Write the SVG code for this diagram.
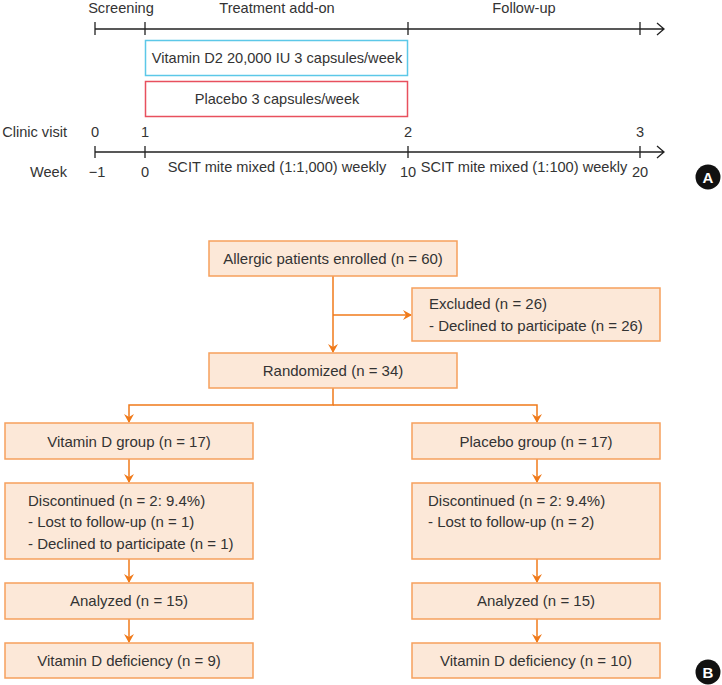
<svg xmlns="http://www.w3.org/2000/svg" width="722" height="685" viewBox="0 0 722 685">
<style>
text{font-family:"Liberation Sans",Arial,sans-serif;font-size:15px;fill:#333}
#timeline text{font-size:14.6px}
.tl{stroke:#222;stroke-width:1.3;fill:none}
.box{fill:#fce8d8;stroke:#f6a05c;stroke-width:1.5}
.con{stroke:#f07a1a;stroke-width:1.5;fill:none}
.c{text-anchor:middle}
.e{text-anchor:end}
.badge{fill:#111}
#timeline .bt,.bt{fill:#fff;font-weight:bold;font-size:15px;text-anchor:middle}
</style>
<defs>
<marker id="ah" markerWidth="10" markerHeight="10" refX="8" refY="5" orient="auto" markerUnits="userSpaceOnUse">
<path d="M0,0 L9,5 L0,10 L3,5 Z" fill="#f07a1a"/>
</marker>
</defs>
<g id="timeline">
<text x="121" y="13" class="c">Screening</text>
<text x="277" y="13" class="c">Treatment add-on</text>
<text x="524" y="13" class="c">Follow-up</text>
<path class="tl" d="M95,29 H664 M657,23 L664,29 L657,35 M95,22 V35 M145,22 V35 M408,22 V35 M640,22 V35"/>
<g id="vitd2"><rect x="145.5" y="40.5" width="262" height="35" fill="#fff" stroke="#5cc8e8" stroke-width="1.5"/>
<text x="277" y="63" class="c">Vitamin D2 20,000 IU 3 capsules/week</text></g>
<g id="placebo"><rect x="145.5" y="81.5" width="262" height="35" fill="#fff" stroke="#e8505e" stroke-width="1.5"/>
<text x="277" y="104" class="c">Placebo 3 capsules/week</text></g>
<text x="67" y="137" class="e">Clinic visit</text>
<text x="95" y="137" class="c">0</text>
<text x="145" y="137" class="c">1</text>
<text x="408" y="137" class="c">2</text>
<text x="640" y="137" class="c">3</text>
<path class="tl" d="M95,152 H664 M657,146 L664,152 L657,158 M95,146 V158 M145,146 V158 M408,146 V158 M640,146 V158"/>
<text x="67" y="177" class="e">Week</text>
<text x="97" y="177" class="c">−1</text>
<text x="145" y="177" class="c">0</text>
<text x="408" y="177" class="c">10</text>
<text x="640" y="177" class="c">20</text>
<text x="277" y="172" class="c">SCIT mite mixed (1:1,000) weekly</text>
<text x="524" y="172" class="c">SCIT mite mixed (1:100) weekly</text>
<circle class="badge" cx="708" cy="177" r="12.5"/>
<text x="708" y="182.5" class="bt">A</text>
</g>
<g id="connectors">
<path class="con" d="M333,276 V352" marker-end="url(#ah)"/>
<path class="con" d="M333,315 H411" marker-end="url(#ah)"/>
<path class="con" d="M333,388 V405 H129 V422" marker-end="url(#ah)"/>
<path class="con" d="M333,405 H537 V422" marker-end="url(#ah)"/>
<path class="con" d="M129,459 V482" marker-end="url(#ah)"/>
<path class="con" d="M537,459 V482" marker-end="url(#ah)"/>
<path class="con" d="M129,559 V582" marker-end="url(#ah)"/>
<path class="con" d="M537,559 V582" marker-end="url(#ah)"/>
<path class="con" d="M129,619 V642" marker-end="url(#ah)"/>
<path class="con" d="M537,619 V642" marker-end="url(#ah)"/>
</g>
<g id="enrolled"><rect class="box" x="209" y="241" width="248" height="35"/>
<text x="333" y="263.5" class="c">Allergic patients enrolled (n = 60)</text></g>
<g id="excluded"><rect class="box" x="412" y="288" width="248" height="53"/>
<text x="429" y="308.5">Excluded (n = 26)</text>
<text x="429" y="330.5">- Declined to participate (n = 26)</text></g>
<g id="randomized"><rect class="box" x="209" y="353" width="248" height="35"/>
<text x="333" y="375.5" class="c">Randomized (n = 34)</text></g>
<g id="vitd-group"><rect class="box" x="5" y="423" width="248" height="36"/>
<text x="129" y="446.5" class="c">Vitamin D group (n = 17)</text></g>
<g id="plac-group"><rect class="box" x="412" y="423" width="248" height="36"/>
<text x="536" y="446.5" class="c">Placebo group (n = 17)</text></g>
<g id="vitd-disc"><rect class="box" x="5" y="483" width="248" height="76"/>
<text x="28" y="505.5">Discontinued (n = 2: 9.4%)</text>
<text x="28" y="527">- Lost to follow-up (n = 1)</text>
<text x="28" y="548.5">- Declined to participate (n = 1)</text></g>
<g id="plac-disc"><rect class="box" x="412" y="483" width="248" height="76"/>
<text x="428" y="505.5">Discontinued (n = 2: 9.4%)</text>
<text x="428" y="527">- Lost to follow-up (n = 2)</text></g>
<g id="vitd-anal"><rect class="box" x="5" y="583" width="248" height="36"/>
<text x="129" y="605.5" class="c">Analyzed (n = 15)</text></g>
<g id="plac-anal"><rect class="box" x="412" y="583" width="248" height="36"/>
<text x="536" y="605.5" class="c">Analyzed (n = 15)</text></g>
<g id="vitd-def"><rect class="box" x="5" y="643" width="248" height="35"/>
<text x="129" y="665.5" class="c">Vitamin D deficiency (n = 9)</text></g>
<g id="plac-def"><rect class="box" x="412" y="643" width="248" height="35"/>
<text x="536" y="665.5" class="c">Vitamin D deficiency (n = 10)</text></g>
<circle class="badge" cx="708" cy="672" r="12.5"/>
<text x="708" y="677.5" class="bt">B</text>
</svg>
